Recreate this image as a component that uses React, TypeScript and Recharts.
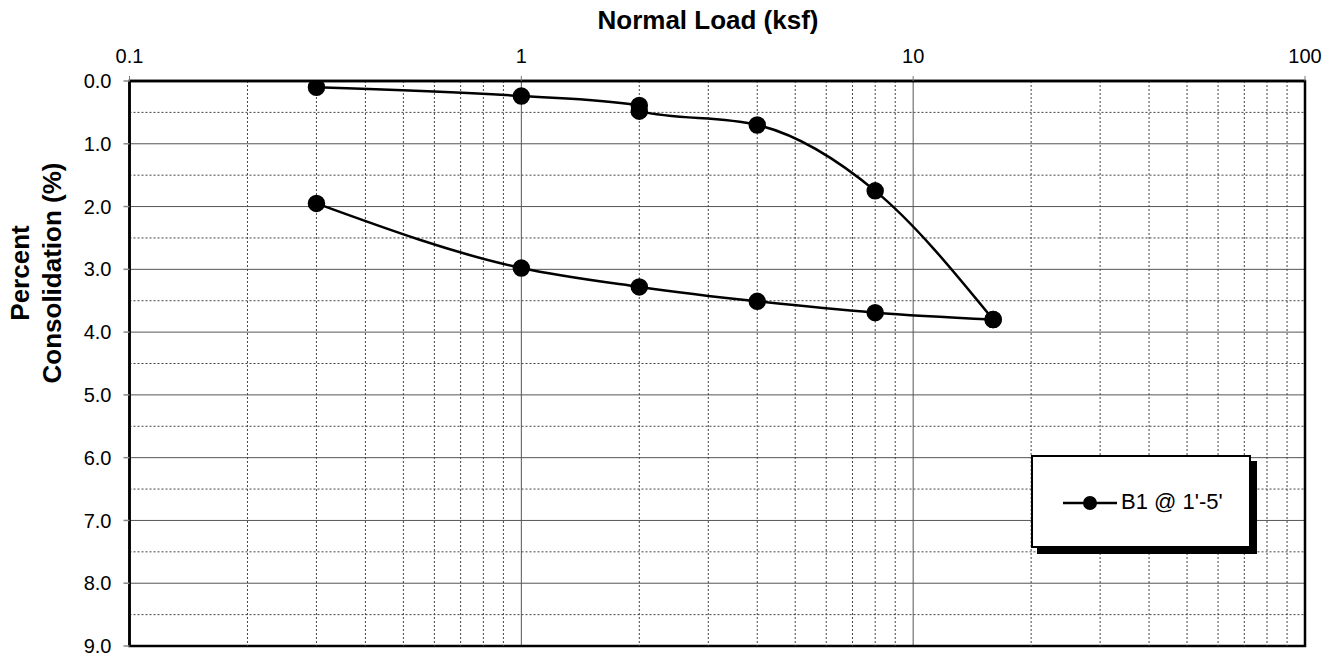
import React from 'react';
import { ComposedChart, Line, XAxis, YAxis, CartesianGrid, ReferenceLine, ReferenceArea } from 'recharts';

// loading branch (ksf, % consolidation)
const loadX = [0.3, 1, 2, 2, 4, 8, 16];
const loadY = [0.1, 0.24, 0.39, 0.48, 0.7, 1.75, 3.8];
// unloading / rebound branch
const unloadX = [16, 8, 4, 2, 1, 0.3];
const unloadY = [3.8, 3.69, 3.51, 3.28, 2.98, 1.95];

const xTicks = [0.1, 1, 10, 100];
const yTicks = [0, 1, 2, 3, 4, 5, 6, 7, 8, 9];
const minorX = [0.2, 0.3, 0.4, 0.5, 0.6, 0.7, 0.8, 0.9, 2, 3, 4, 5, 6, 7, 8, 9, 20, 30, 40, 50, 60, 70, 80, 90];
const minorY = [0.5, 1.5, 2.5, 3.5, 4.5, 5.5, 6.5, 7.5, 8.5];

const seriesName = "B1 @ 1'-5'";

const loadData = loadX.map((x, i) => ({ x, y: loadY[i] }));
const unloadData = unloadX.map((x, i) => ({ x, y: unloadY[i] }));

const font = 'Arial, "Liberation Sans", sans-serif';

export default function App() {
  return (
    <div style={{ position: 'absolute', left: 0, top: 0, width: 1338, height: 658, fontFamily: font, background: '#fff' }}>
      <ComposedChart width={1338} height={658} margin={{ top: 21, right: 33, bottom: 12, left: 29.5 }}>
        <CartesianGrid stroke="#555" strokeWidth={1} />
        {minorX.map((v) => (
          <ReferenceLine key={'mx' + v} x={v} stroke="#444" strokeDasharray="2 2" />
        ))}
        {minorY.map((v) => (
          <ReferenceLine key={'my' + v} y={v} stroke="#444" strokeDasharray="2 2" />
        ))}
        <XAxis
          dataKey="x"
          type="number"
          scale="log"
          domain={[0.1, 100]}
          ticks={xTicks}
          allowDataOverflow
          orientation="top"
          height={60}
          axisLine={{ stroke: '#000', strokeWidth: 2.5 }}
          tickLine={{ stroke: '#777' }}
          tickSize={5}
          tickMargin={13}
          tick={{ fontSize: 20, fill: '#000', fontFamily: font }}
          tickFormatter={(v) => String(v)}
        />
        <YAxis
          type="number"
          reversed
          domain={[0, 9]}
          ticks={yTicks}
          allowDataOverflow
          width={100}
          axisLine={{ stroke: '#000', strokeWidth: 2.5 }}
          tickLine={{ stroke: '#888', strokeWidth: 1.5 }}
          tickSize={6}
          tickMargin={12}
          tick={{ fontSize: 20, fill: '#000', fontFamily: font }}
          tickFormatter={(v) => Number(v).toFixed(1)}
        />
        <ReferenceArea x1={0.1} x2={100} y1={0} y2={9} fill="none" stroke="#000" strokeWidth={2.5} />
        <Line
          data={loadData}
          dataKey="y"
          type="monotone"
          stroke="#000"
          strokeWidth={2.5}
          dot={{ r: 7.5, fill: '#000', stroke: '#000' }}
          isAnimationActive={false}
        />
        <Line
          data={unloadData}
          dataKey="y"
          type="monotone"
          stroke="#000"
          strokeWidth={2.5}
          dot={{ r: 7.5, fill: '#000', stroke: '#000' }}
          isAnimationActive={false}
        />
      </ComposedChart>

      {/* title on top */}
      <div style={{ position: 'absolute', left: 408, width: 600, top: 5, textAlign: 'center', fontSize: 26, fontWeight: 'bold', lineHeight: '30px' }}>
        Normal Load (ksf)
      </div>

      {/* y axis title, two lines */}
      <div
        style={{
          position: 'absolute', left: 36 - 150, top: 273 - 32, width: 300, height: 64,
          transform: 'rotate(-90deg)', transformOrigin: 'center', textAlign: 'center',
          fontSize: 26, fontWeight: 'bold', lineHeight: '32px',
        }}
      >
        Percent<br />Consolidation (%)
      </div>

      {/* legend */}
      <div
        style={{
          position: 'absolute', left: 1031, top: 455, width: 220, height: 93, boxSizing: 'border-box',
          border: '2.5px solid #000', background: '#fff', boxShadow: '6px 6px 0 #000',
        }}
      >
        <svg width={56} height={20} style={{ position: 'absolute', left: 30, top: 36 }}>
          <line x1={0} y1={10} x2={54} y2={10} stroke="#000" strokeWidth={2.5} />
          <circle cx={27} cy={10} r={7} fill="#000" />
        </svg>
        <div style={{ position: 'absolute', left: 88, top: 30, fontSize: 22, lineHeight: '30px', whiteSpace: 'nowrap' }}>
          {seriesName}
        </div>
      </div>
    </div>
  );
}
